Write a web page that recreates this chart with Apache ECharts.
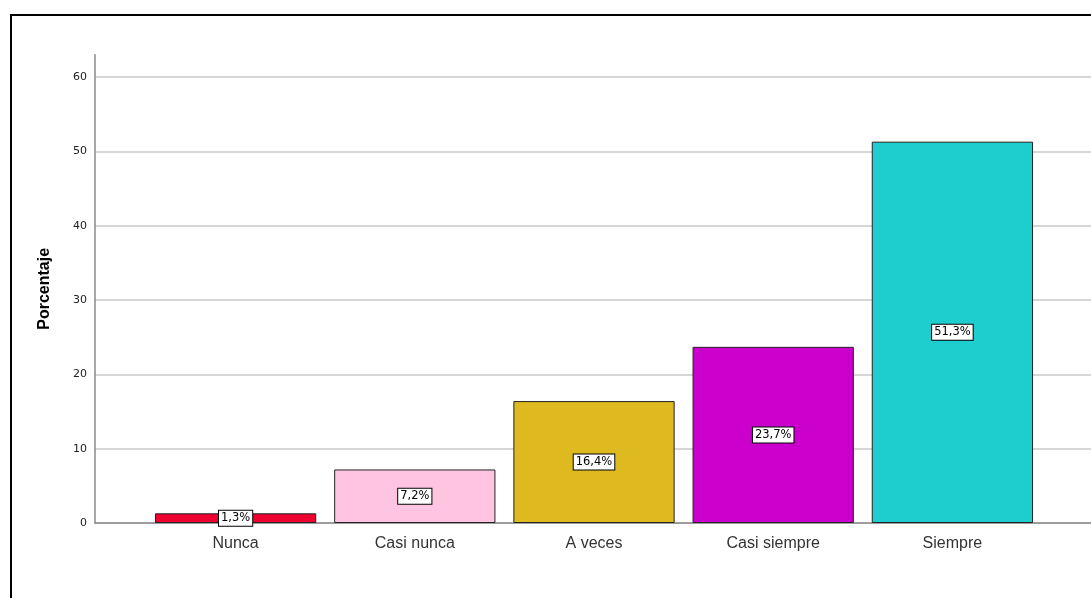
<!DOCTYPE html>
<html>
<head>
<meta charset="utf-8">
<script src="https://cdn.jsdelivr.net/npm/echarts@6/dist/echarts.min.js"></script>
<style>
  html, body { margin: 0; padding: 0; background: #fff; }
  #chart { width: 1091px; height: 598px; }
</style>
</head>
<body>
<div id="chart"></div>
<script>
// Response categories and their percentages
const categories = ['Nunca', 'Casi nunca', 'A veces', 'Casi siempre', 'Siempre'];
const percentages = [1.3, 7.2, 16.4, 23.7, 51.3];
const barColors = ['#ee0030', '#ffc4e1', '#dfb920', '#cc00cc', '#1ecdcd'];
const yTicks = [0, 10, 20, 30, 40, 50, 60];

const Y_MAX = 63;
const GRID_TOP = 54.7;
const GRID_BOTTOM = 75;

// gridline colours per tick; the extra line at the axis top stays invisible
const splitColors = yTicks.map(() => '#c8c8c8').concat(['rgba(0,0,0,0)']);

const chart = echarts.init(document.getElementById('chart'), null, { renderer: 'canvas' });

chart.setOption({
  backgroundColor: '#ffffff',
  animation: false,
  graphic: [{
    type: 'rect',
    shape: { x: 11, y: 15, width: 1200, height: 700 },
    style: { fill: 'none', stroke: '#000', lineWidth: 2 },
    silent: true,
    z: 100
  }],
  grid: [
    // frame grid: value axis, gridlines and baseline
    { left: 95, right: 0, top: GRID_TOP, bottom: GRID_BOTTOM },
    // bar grid: category bands
    { left: 146, right: 49, top: GRID_TOP, bottom: GRID_BOTTOM }
  ],
  xAxis: [
    {
      gridIndex: 0, type: 'value', min: 0, max: 1,
      axisLine: { show: true, onZero: false, lineStyle: { color: '#8a8a8a', width: 1.5 } },
      axisTick: { show: false }, axisLabel: { show: false }, splitLine: { show: false }
    },
    {
      gridIndex: 1, type: 'category', data: categories,
      axisLine: { show: false }, axisTick: { show: false },
      axisLabel: { color: '#333', fontSize: 16, fontFamily: 'Liberation Sans, Arial, sans-serif', margin: 13 }
    }
  ],
  yAxis: [
    {
      gridIndex: 0, type: 'value', min: 0, max: Y_MAX, interval: 10,
      name: 'Porcentaje', nameLocation: 'middle', nameGap: 42, nameRotate: 90,
      nameTextStyle: { color: '#000', fontSize: 16, fontWeight: 'bold', fontFamily: 'Liberation Sans, Arial, sans-serif' },
      axisLine: { show: true, lineStyle: { color: '#8a8a8a', width: 1.5 } },
      axisTick: { show: false },
      axisLabel: {
        color: '#222', fontSize: 11, margin: 8, fontFamily: 'DejaVu Sans, sans-serif',
        showMaxLabel: false,
        formatter: v => (yTicks.includes(v) ? String(v) : '')
      },
      splitLine: { show: true, lineStyle: { color: splitColors, width: 1.5 } }
    },
    {
      gridIndex: 1, type: 'value', min: 0, max: Y_MAX, show: false,
      splitLine: { show: false }
    }
  ],
  series: [{
    type: 'bar',
    xAxisIndex: 1, yAxisIndex: 1,
    barCategoryGap: '10%',
    data: percentages.map((v, i) => ({
      value: v,
      itemStyle: { color: barColors[i], borderColor: '#222', borderWidth: 1 }
    })),
    label: {
      show: true,
      position: 'inside',
      formatter: p => p.value.toFixed(1).replace('.', ',') + '%',
      color: '#000',
      fontSize: 11.5,
      fontFamily: 'DejaVu Sans, sans-serif',
      backgroundColor: '#fff',
      borderColor: '#000',
      borderWidth: 1,
      padding: [2, 2, 1, 2]
    }
  }]
});
</script>
</body>
</html>
